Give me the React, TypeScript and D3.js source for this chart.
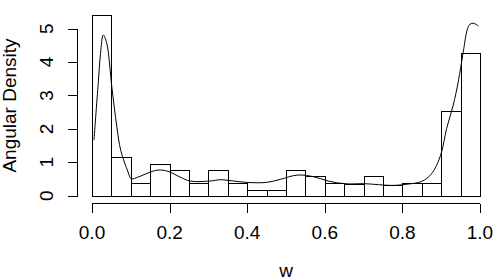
import React, { useEffect, useRef } from "react";
import * as d3 from "d3";

// histogram: break points and density of each bin
const breaks = [0, 0.05, 0.1, 0.15, 0.2, 0.25, 0.3, 0.35, 0.4, 0.45, 0.5, 0.55, 0.6, 0.65, 0.7, 0.75, 0.8, 0.85, 0.9, 0.95, 1.0];
const binDensity = [5.4, 1.15, 0.39, 0.96, 0.78, 0.39, 0.78, 0.38, 0.18, 0.18, 0.78, 0.58, 0.39, 0.36, 0.58, 0.31, 0.39, 0.39, 2.53, 4.27];

// smoothed density curve
const curveW = [0.005, 0.016, 0.022, 0.029, 0.038, 0.051, 0.064, 0.074, 0.093, 0.101, 0.119, 0.144, 0.17, 0.196, 0.227, 0.253, 0.304, 0.33, 0.351, 0.399, 0.45, 0.485, 0.53, 0.575, 0.609, 0.652, 0.704, 0.772, 0.807, 0.85, 0.873, 0.888, 0.901, 0.914, 0.931, 0.944, 0.957, 0.967, 0.974, 0.983, 0.996];
const curveD = [1.66, 3.36, 4.26, 4.81, 4.56, 3.26, 2.06, 1.36, 0.71, 0.51, 0.56, 0.68, 0.77, 0.73, 0.56, 0.44, 0.44, 0.48, 0.46, 0.4, 0.4, 0.49, 0.62, 0.56, 0.44, 0.36, 0.36, 0.31, 0.34, 0.43, 0.63, 0.91, 1.31, 2.01, 2.71, 3.41, 4.31, 4.96, 5.13, 5.16, 5.08];

const xTicks = [0, 0.2, 0.4, 0.6, 0.8, 1.0];
const yTicks = [0, 1, 2, 3, 4, 5];

const W = 500, H = 280;
const box = { left: 76.5, right: 495.5, top: 8, bottom: 203 };
const font = "'Liberation Sans', Arial, sans-serif";

const App = () => {
  const svgRef = useRef(null);

  useEffect(() => {
    const svg = d3.select(svgRef.current);
    svg.selectAll("*").remove();

    const x = d3.scaleLinear().domain([-0.04, 1.04]).range([box.left, box.right]);
    const y = d3.scaleLinear().domain([-0.216, 5.616]).range([box.bottom, box.top]);

    svg.append("rect").attr("width", W).attr("height", H).attr("fill", "#fff");

    // bars
    const bins = binDensity.map((d, i) => ({ x0: breaks[i], x1: breaks[i + 1], d }));
    svg.append("g")
      .selectAll("rect")
      .data(bins)
      .join("rect")
      .attr("x", (b) => Math.round(x(b.x0)) + 0.5)
      .attr("y", (b) => Math.round(y(b.d)) + 0.5)
      .attr("width", (b) => Math.round(x(b.x1)) - Math.round(x(b.x0)))
      .attr("height", (b) => Math.round(y(0)) - Math.round(y(b.d)))
      .attr("fill", "none")
      .attr("stroke", "#000")
      .attr("stroke-width", 1)
      .attr("shape-rendering", "crispEdges");

    // density line
    const pts = curveW.map((w, i) => [w, curveD[i]]);
    const line = d3.line()
      .x((p) => x(p[0]))
      .y((p) => y(p[1]))
      .curve(d3.curveCatmullRom.alpha(0.5));
    svg.append("path")
      .datum(pts)
      .attr("d", line)
      .attr("fill", "none")
      .attr("stroke", "#000")
      .attr("stroke-width", 1);

    // x axis
    const xa = svg.append("g").attr("shape-rendering", "crispEdges");
    const ay = box.bottom + 0.5;
    xa.append("line")
      .attr("x1", x(0)).attr("x2", x(1))
      .attr("y1", ay).attr("y2", ay)
      .attr("stroke", "#000");
    xa.selectAll(".tk")
      .data(xTicks)
      .join("line")
      .attr("x1", (d) => Math.round(x(d)) + 0.5)
      .attr("x2", (d) => Math.round(x(d)) + 0.5)
      .attr("y1", ay)
      .attr("y2", ay + 9.5)
      .attr("stroke", "#000");
    svg.append("g")
      .selectAll("text")
      .data(xTicks)
      .join("text")
      .attr("x", (d) => x(d))
      .attr("y", 238.5)
      .attr("text-anchor", "middle")
      .style("font-family", font)
      .style("font-size", "19px")
      .text((d) => d3.format(".1f")(d));

    // y axis
    const ya = svg.append("g").attr("shape-rendering", "crispEdges");
    const ax = Math.round(box.left) + 0.5;
    ya.append("line")
      .attr("x1", ax).attr("x2", ax)
      .attr("y1", y(0)).attr("y2", y(5))
      .attr("stroke", "#000");
    ya.selectAll(".tk")
      .data(yTicks)
      .join("line")
      .attr("x1", ax - 9.5)
      .attr("x2", ax)
      .attr("y1", (d) => Math.round(y(d)) + 0.5)
      .attr("y2", (d) => Math.round(y(d)) + 0.5)
      .attr("stroke", "#000");
    svg.append("g")
      .selectAll("text")
      .data(yTicks)
      .join("text")
      .attr("transform", (d) => `translate(53,${y(d)}) rotate(-90)`)
      .attr("text-anchor", "middle")
      .style("font-family", font)
      .style("font-size", "19px")
      .text((d) => d);

    // axis titles
    svg.append("text")
      .attr("x", (box.left + box.right) / 2)
      .attr("y", 276.5)
      .attr("text-anchor", "middle")
      .style("font-family", font)
      .style("font-size", "19px")
      .text("w");
    svg.append("text")
      .attr("transform", `translate(16,${(box.top + box.bottom) / 2}) rotate(-90)`)
      .attr("text-anchor", "middle")
      .style("font-family", font)
      .style("font-size", "19px")
      .text("Angular Density");
  }, []);

  return (
    <svg
      ref={svgRef}
      width={W}
      height={H}
      style={{ position: "absolute", left: 0, top: 0, display: "block" }}
    ></svg>
  );
};

export default App;
